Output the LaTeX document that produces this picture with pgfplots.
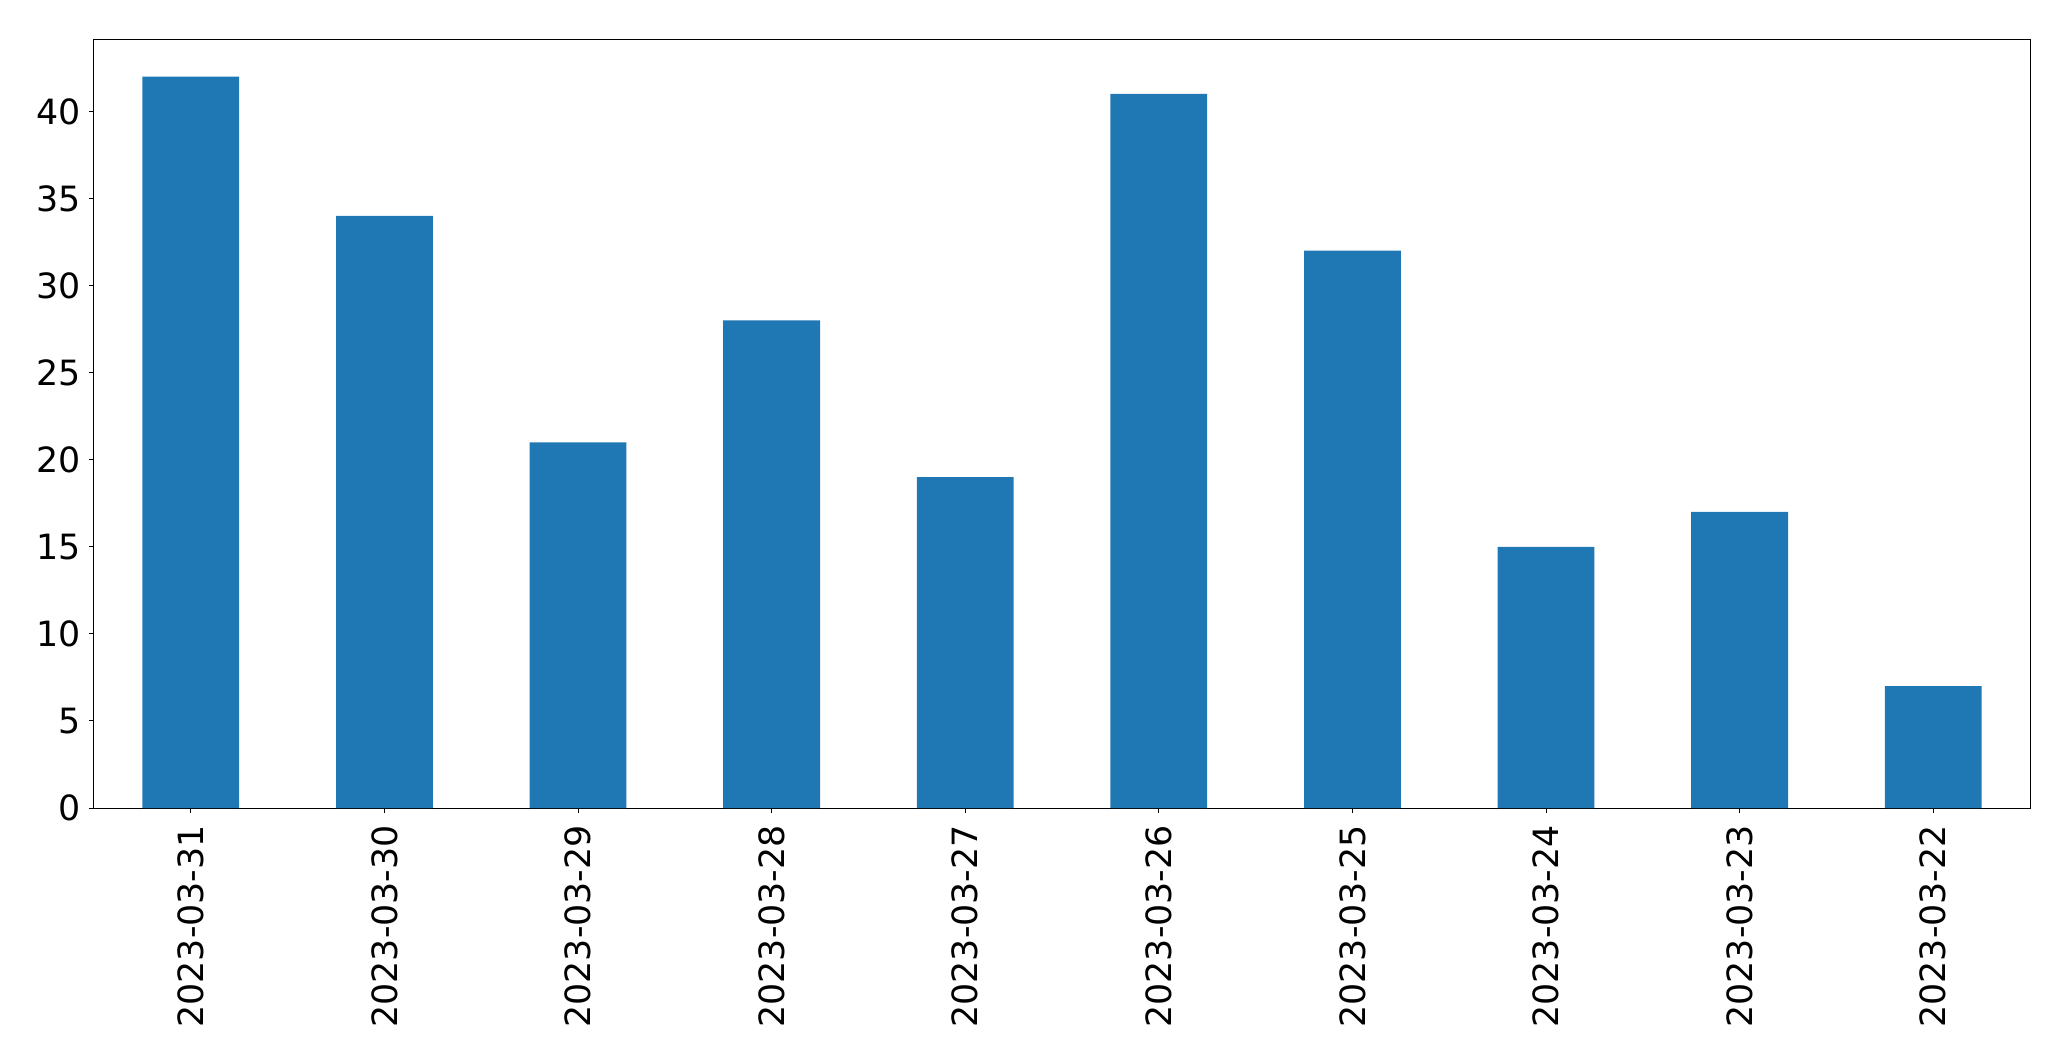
\documentclass[border=0pt]{standalone}
\usepackage{pgfplots}
\pgfplotsset{compat=1.18}
\usepackage{fontspec}
\setmainfont{DejaVu Sans}
\definecolor{mplblue}{HTML}{1F77B4}
\begin{document}
\fontsize{17.4}{20}\selectfont
\begin{tikzpicture}
\path[use as bounding box] (0,0) rectangle (1035.5pt,530.5pt);
\begin{axis}[
  at={(47pt,126.5pt)}, anchor=south west,
  width=968pt, height=384pt, scale only axis,
  xmin=-0.5, xmax=9.5, ymin=0, ymax=44.1,
  ytick={0,5,...,40},
  xtick={0,1,...,9},
  xticklabels={2023-03-31,2023-03-30,2023-03-29,2023-03-28,2023-03-27,2023-03-26,2023-03-25,2023-03-24,2023-03-23,2023-03-22},
  xticklabel style={rotate=90, anchor=east, inner sep=0pt, xshift=-6pt},
  yticklabel style={inner sep=0pt, xshift=-4pt},
  tick align=outside, tick pos=left,
  major tick length=2.4pt,
  every tick/.style={black, line width=0.5pt},
  axis line style={line width=0.5pt},
  tick label style={font=\fontsize{17.4}{20}\selectfont},
  /pgf/number format/assume math mode=true,
]
\addplot[ybar, bar width=0.5, fill=mplblue, draw=none, bar shift=0pt] coordinates {
(0,42) (1,34) (2,21) (3,28) (4,19) (5,41) (6,32) (7,15) (8,17) (9,7)};
\end{axis}
\end{tikzpicture}
\end{document}
